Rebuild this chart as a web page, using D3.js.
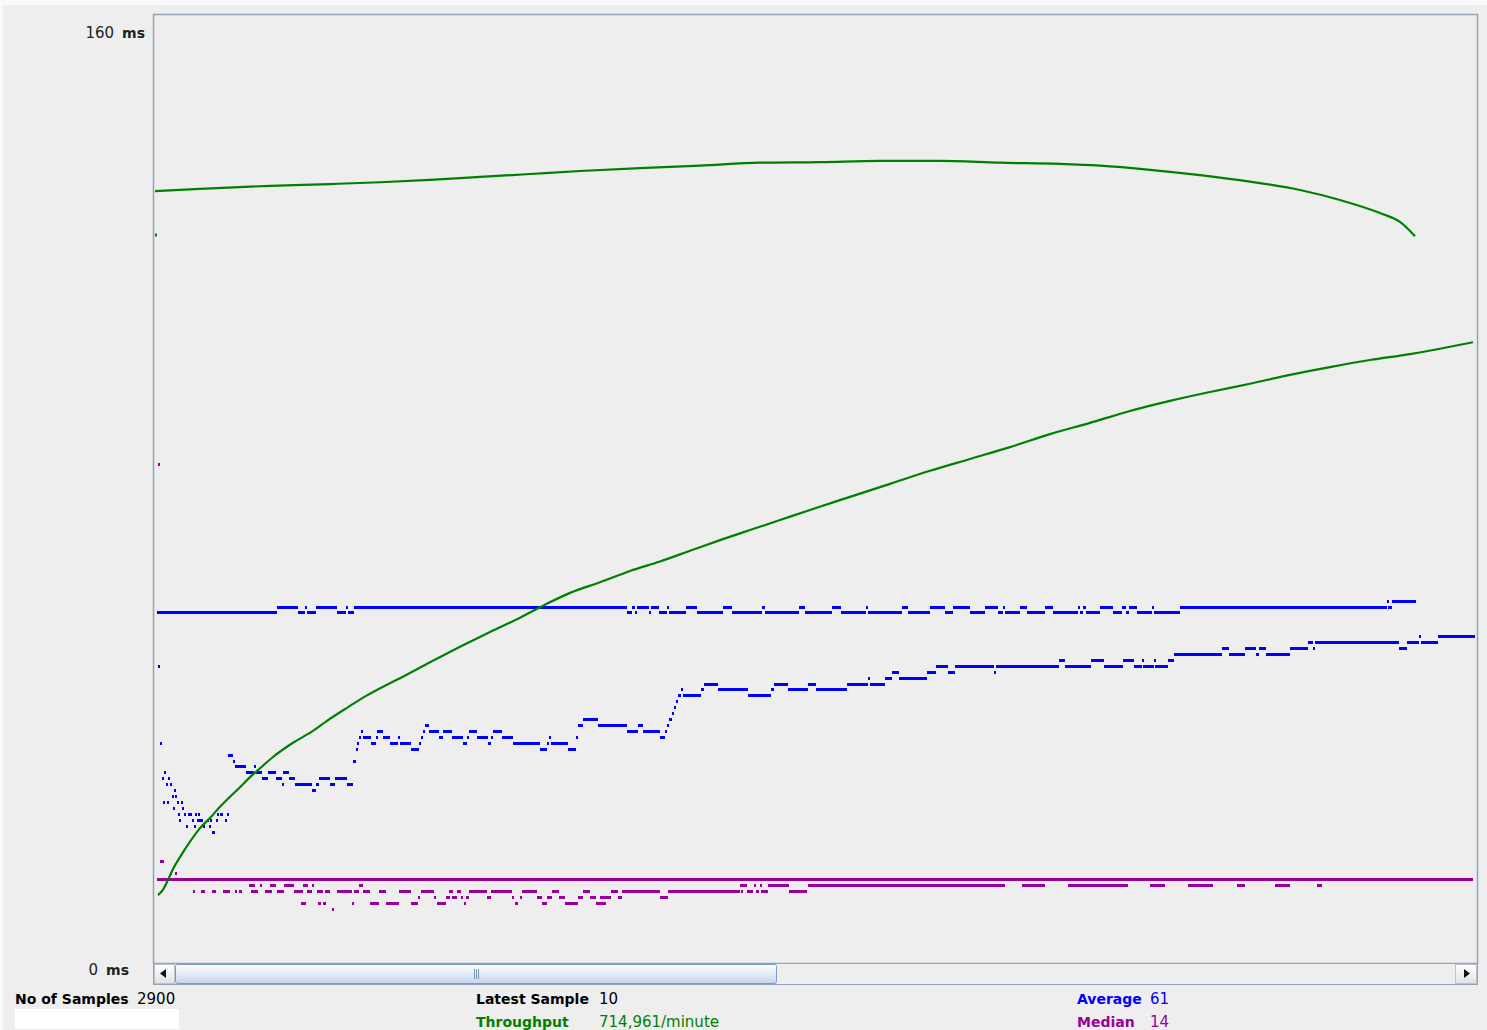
<!DOCTYPE html>
<html>
<head>
<meta charset="utf-8">
<script src="https://cdn.jsdelivr.net/npm/d3@7/dist/d3.min.js"></script>
<style>
  html, body { margin: 0; padding: 0; background: #fafafa; }
  svg { display: block; }
</style>
</head>
<body>
<svg id="chart" width="1487" height="1030"></svg>
<script>
// ---- data (x = sample index, y = milliseconds) ----
const yTicks = [160, 0];

// run A: breakpoints [sample, ms], each level holds until the next breakpoint
const averageA = [[2,59],[122,60],[143,59],[150,60],[152,59],[161,60],[182,59],[191,60],[193,59],[199,60],
  [472,59],[477,60],[480,59],[482,60],[494,59],[496,60],[504,59],[512,60],[514,59],[531,60],[542,59],[568,60],
  [577,59],[607,60],[610,59],[644,60],[650,59],[677,60],[686,59],[711,60],[713,59],[747,60],[753,59],[775,60],
  [790,59],[798,60],[815,59],[830,60],[843,59],[848,60],[850,59],[865,60],[872,59],[890,60],[898,59],[923,60],
  [925,59],[928,60],[931,59],[945,60],[958,59],[967,60],[971,59],[974,60],[982,59],[997,60],[999,59],[1025,60],
  [1232,61],[1233,60],[1237,61]];
const averageAEnd = 1261;

const throughputA = [[0,130.1],[45,130.5],[115,131.0],[175,131.3],[225,131.6],[275,132.0],[325,132.5],[375,133.0],
  [425,133.5],[485,134.0],[545,134.4],[605,134.9],[665,135.0],[725,135.2],[785,135.2],[845,134.9],[905,134.7],
  [945,134.4],[995,133.7],[1045,132.8],[1095,131.7],[1145,130.3],[1185,128.6],[1225,126.4],[1245,124.9],[1260,122.5]];
const throughputAStray = [[1,122.7]];

// run B
const averageBEarly = [[3,4,50],[5,6,37],[7,8,31],[8,9,27],[9,10,32],[11,12,30],[12,13,27],[13,14,31],[15,16,30],
  [17,18,28],[18,19,26],[19,20,29],[20,21,28],[22,23,27],[23,24,25],[24,25,24],[26,27,27],[27,28,26],[29,30,25],
  [31,32,23],[33,37,25],[40,42,25],[43,44,25],[62,63,25],[65,68,25],[72,73,25],[37,39,24],[42,48,24],[52,53,24],
  [55,57,24],[61,62,24],[70,72,24],[39,40,23],[48,50,23],[54,56,23],[57,60,22]];
const averageB = [[73,35],[78,34],[80,33],[91,32],[99,33],[101,32],[107,31],[113,32],[121,31],[127,30],[128,32],
  [134,31],[140,30],[157,29],[161,30],[164,31],[175,30],[180,31],[192,30],[198,34],[201,36],[202,37],[204,38],
  [206,39],[208,38],[216,37],[221,38],[222,39],[228,38],[235,37],[243,38],[245,37],[256,36],[264,37],[266,38],
  [268,39],[270,40],[274,39],[284,38],[288,39],[297,38],[308,37],[312,38],[314,39],[322,38],[333,37],[336,38],
  [338,39],[347,38],[358,37],[385,36],[392,37],[394,38],[396,37],[413,36],[421,38],[423,40],[428,41],[443,40],
  [472,39],[483,40],[488,39],[505,38],[510,39],[512,40],[514,41],[517,42],[519,43],[521,44],[523,45],[526,46],
  [528,45],[546,46],[549,47],[563,46],[593,45],[616,46],[619,47],[633,46],[653,47],[661,46],[692,47],[713,48],
  [715,47],[730,48],[737,49],[744,48],[772,49],[781,50],[793,49],[800,50],[839,49],[841,50],[904,51],[910,50],
  [936,51],[949,50],[968,51],[979,50],[987,51],[988,50],[999,51],[1000,50],[1013,51],[1019,52],[1067,53],
  [1074,52],[1090,53],[1101,52],[1104,53],[1111,52],[1135,53],[1153,54],[1158,53],[1160,54],[1244,53],
  [1252,54],[1264,55],[1266,54],[1283,55]];
const averageBEnd = 1320;

const throughputB = [[3,11.3],[8,12.2],[12,13.5],[18,15.7],[25,17.7],[35,20.3],[45,22.6],[55,24.3],[65,26.2],
  [75,27.9],[85,29.5],[95,31.2],[105,32.7],[118,34.6],[138,37.0],[158,39.0],[172,40.7],[192,42.9],[212,45.0],
  [232,46.8],[245,47.9],[275,50.6],[305,53.2],[335,55.7],[365,58.1],[390,60.3],[415,62.3],[445,64.1],[475,66.0],
  [505,67.6],[535,69.4],[565,71.2],[595,72.9],[625,74.6],[655,76.3],[695,78.5],[735,80.7],[775,82.9],[815,84.9],
  [855,86.9],[895,89.1],[935,91.0],[975,93.0],[1015,94.7],[1055,96.2],[1095,97.6],[1135,99.1],[1175,100.4],
  [1215,101.6],[1255,102.6],[1285,103.5],[1318,104.6]];

// median: runs [from, to, ms]
const medianLine = [[2,1318,14]];
const medianRuns = [[3,5,84],[5,9,17],[15,16,15],[20,21,15],
  [94,100,13],[105,106,13],[115,121,13],[129,139,13],[148,153,13],[157,158,13],[204,208,13],[585,592,13],
  [599,600,13],[605,606,13],[613,634,13],[653,850,13],[867,890,13],[913,973,13],[995,1010,13],[1033,1058,13],
  [1082,1090,13],[1120,1135,13],[1162,1167,13],
  [38,39,12],[46,50,12],[57,61,12],[68,75,12],[80,81,12],[84,87,12],[96,103,12],[110,117,12],[122,129,12],
  [139,148,12],[152,157,12],[162,168,12],[170,175,12],[182,197,12],[199,204,12],[208,215,12],[224,231,12],
  [244,256,12],[266,279,12],[294,298,12],[302,306,12],[314,332,12],[336,357,12],[367,382,12],[397,404,12],
  [428,435,12],[456,463,12],[467,505,12],[513,585,12],[586,587,12],[592,598,12],[601,604,12],[606,613,12],[634,652,12],
  [263,264,11],[279,280,11],[291,295,11],[297,302,11],[306,308,11],[311,314,11],[332,336,11],[357,358,11],
  [365,366,11],[382,387,11],[392,397,11],[404,410,11],[423,428,11],[435,441,11],[445,456,11],[463,467,11],[505,513,11],
  [146,151,10],[163,166,10],[168,171,10],[197,199,10],[215,224,10],[231,244,10],[256,263,10],[282,291,10],
  [309,310,10],[360,363,10],[387,392,10],[410,423,10],[441,451,10],
  [177,179,9]];

const statsRow1 = [
  { label: 'No of Samples', value: '2900', color: '#000000' },
  { label: 'Latest Sample', value: '10', color: '#000000' },
  { label: 'Average', value: '61', color: '#0000ff' }
];
const statsRow2 = [
  { label: null, value: null, color: '#000000' },
  { label: 'Throughput', value: '714,961/minute', color: '#008000' },
  { label: 'Median', value: '14', color: '#990099' }
];

// ---- layout ----
const W = 1487, H = 1030;
const plot = { left: 153, top: 14, right: 1477, bottom: 963 };
const COLORS = { bg: '#eeeeee', frame: '#95a3b6', avg: '#0000ff', med: '#990099', thr: '#008000' };
const FONT = '"DejaVu Sans", Verdana, sans-serif';

const svg = d3.select('#chart');

const x = d3.scaleLinear().domain([0, 1320]).range([155, 1475]);
const y = d3.scaleLinear().domain([0, 160]).range([962, 14]);

// background
svg.append('rect').attr('x', 3).attr('y', 5).attr('width', W - 3).attr('height', H - 5).attr('fill', COLORS.bg);

// plot frame
svg.append('rect')
  .attr('x', plot.left + 0.5).attr('y', plot.top + 0.5)
  .attr('width', plot.right - plot.left).attr('height', plot.bottom - plot.top)
  .attr('fill', COLORS.bg)
  .attr('stroke', COLORS.frame)
  .attr('stroke-width', 1.5);

const g = svg.append('g').attr('shape-rendering', 'crispEdges');

// step series -> horizontal pieces with no vertical connectors
function stepPieces(points, end) {
  return points.map((p, i) => [p[0], i < points.length - 1 ? points[i + 1][0] : end, p[1]]);
}

function drawRuns(runs, color, width) {
  g.append('g').selectAll('line').data(runs).join('line')
    .attr('x1', (d) => x(d[0]))
    .attr('x2', (d) => Math.max(x(d[1]), x(d[0]) + 2))
    .attr('y1', (d) => Math.round(y(d[2])))
    .attr('y2', (d) => Math.round(y(d[2])))
    .attr('stroke', color)
    .attr('stroke-width', width);
}

// median
drawRuns(medianLine, COLORS.med, 3);
drawRuns(medianRuns, COLORS.med, 3);

// throughput (green)
const line = d3.line().x((d) => x(d[0])).y((d) => y(d[1])).curve(d3.curveMonotoneX);
[throughputA, throughputB].forEach((series) => {
  svg.append('path')
    .datum(series)
    .attr('d', line)
    .attr('fill', 'none')
    .attr('stroke', COLORS.thr)
    .attr('stroke-width', 2.2);
});
svg.append('g').selectAll('rect').data(throughputAStray).join('rect')
  .attr('x', (d) => x(d[0]) - 1).attr('y', (d) => y(d[1]) - 1.5)
  .attr('width', 2).attr('height', 3).attr('fill', COLORS.thr);

// averages (blue)
drawRuns(stepPieces(averageA, averageAEnd), COLORS.avg, 3);
drawRuns(averageBEarly, COLORS.avg, 3);
drawRuns(stepPieces(averageB, averageBEnd), COLORS.avg, 3);

// y axis labels
yTicks.forEach((v) => {
  const isTop = v === yTicks[0];
  const t = svg.append('text')
    .attr('x', isTop ? 145 : 129)
    .attr('y', isTop ? y(v) + 24 : y(v) + 13)
    .attr('text-anchor', 'end')
    .style('font-family', FONT)
    .style('font-size', '15px')
    .style('fill', '#222');
  t.append('tspan').text(`${v}`);
  t.append('tspan').attr('dx', 8).style('font-size', '14px').style('font-weight', 'bold').text('ms');
});

// scrollbar
const sb = { top: 963, bottom: 984, thumbL: 175, thumbR: 776 };
const defs = svg.append('defs');
const grad = defs.append('linearGradient').attr('id', 'thumb').attr('x1', 0).attr('x2', 0).attr('y1', 0).attr('y2', 1);
grad.append('stop').attr('offset', '0%').attr('stop-color', '#ffffff');
grad.append('stop').attr('offset', '45%').attr('stop-color', '#e6eef8');
grad.append('stop').attr('offset', '100%').attr('stop-color', '#c3d5ea');
const btnGrad = defs.append('linearGradient').attr('id', 'btn').attr('x1', 0).attr('x2', 0).attr('y1', 0).attr('y2', 1);
btnGrad.append('stop').attr('offset', '0%').attr('stop-color', '#ffffff');
btnGrad.append('stop').attr('offset', '100%').attr('stop-color', '#e2e2e2');

svg.append('rect')
  .attr('x', plot.left + 0.5).attr('y', sb.top + 0.5)
  .attr('width', plot.right - plot.left).attr('height', sb.bottom - sb.top)
  .attr('fill', COLORS.bg).attr('stroke', COLORS.frame);
svg.append('rect')
  .attr('x', 154.5).attr('y', sb.top + 1.5).attr('width', 20).attr('height', sb.bottom - sb.top - 2)
  .attr('fill', 'url(#btn)').attr('stroke', '#b8c2ce');
svg.append('rect')
  .attr('x', 1455.5).attr('y', sb.top + 1.5).attr('width', 21).attr('height', sb.bottom - sb.top - 2)
  .attr('fill', 'url(#btn)').attr('stroke', '#b8c2ce');
svg.append('path').attr('d', 'M160,973.5 L166,969 L166,978 Z').attr('fill', '#111');
svg.append('path').attr('d', 'M1470,973.5 L1464,969 L1464,978 Z').attr('fill', '#111');
svg.append('rect')
  .attr('x', sb.thumbL + 0.5).attr('y', sb.top + 1.5)
  .attr('width', sb.thumbR - sb.thumbL).attr('height', sb.bottom - sb.top - 2)
  .attr('rx', 2)
  .attr('fill', 'url(#thumb)').attr('stroke', '#7b9cc6');
[-2, 0, 2].forEach((dx) => {
  svg.append('line')
    .attr('x1', 476.5 + dx).attr('x2', 476.5 + dx).attr('y1', 969).attr('y2', 979)
    .attr('stroke', '#7f98b8').attr('stroke-width', 1);
});

// stats
const colLabelX = [15, 476, 1077];
const colValueX = [137, 599, 1150];
function drawStats(row, baseline) {
  row.forEach((s, i) => {
    if (!s.label) return;
    svg.append('text')
      .attr('x', colLabelX[i]).attr('y', baseline)
      .style('font-family', FONT).style('font-size', '14px').style('font-weight', 'bold')
      .style('fill', s.color).text(s.label);
    svg.append('text')
      .attr('x', colValueX[i]).attr('y', baseline)
      .style('font-family', FONT).style('font-size', '15px')
      .style('fill', s.color).text(s.value);
  });
}
drawStats(statsRow1, 1004);
drawStats(statsRow2, 1027);

// empty white field under sample count
svg.append('rect').attr('x', 15).attr('y', 1009).attr('width', 164).attr('height', 20).attr('fill', '#ffffff');
</script>
</body>
</html>
